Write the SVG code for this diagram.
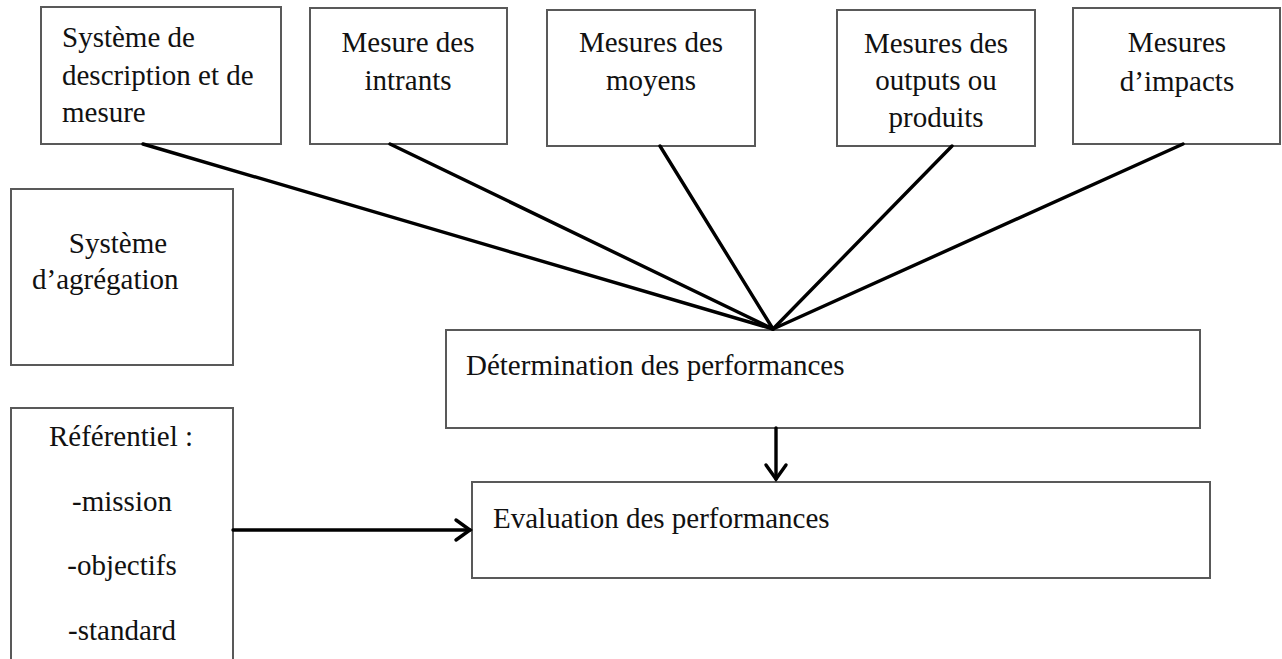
<svg xmlns="http://www.w3.org/2000/svg" width="1282" height="659" viewBox="0 0 1282 659">
  <style>
    .box { fill: #ffffff; stroke: #595959; stroke-width: 2; }
    .t { font-family: "Liberation Serif", "Times New Roman", serif; font-size: 29px; fill: #111111; }
    .c { text-anchor: middle; }
    .link { stroke: #000000; stroke-width: 3.4; fill: none; stroke-linecap: round; }
    .head { stroke: #000000; stroke-width: 3.4; fill: none; stroke-linecap: round; stroke-linejoin: miter; }
  </style>
  <rect width="1282" height="659" fill="#ffffff"/>

  <g id="node-description">
    <rect class="box" x="41" y="7" width="240" height="137"/>
    <text class="t" x="62" y="47">Système de</text>
    <text class="t" x="62" y="85">description et de</text>
    <text class="t" x="62" y="122">mesure</text>
  </g>

  <g id="node-intrants">
    <rect class="box" x="310" y="8" width="197" height="136"/>
    <text class="t c" x="408" y="52">Mesure des</text>
    <text class="t c" x="408" y="90">intrants</text>
  </g>

  <g id="node-moyens">
    <rect class="box" x="547" y="10" width="208" height="136"/>
    <text class="t c" x="651" y="52">Mesures des</text>
    <text class="t c" x="651" y="90">moyens</text>
  </g>

  <g id="node-outputs">
    <rect class="box" x="837" y="10" width="198" height="136"/>
    <text class="t c" x="936" y="53">Mesures des</text>
    <text class="t c" x="936" y="90">outputs ou</text>
    <text class="t c" x="936" y="127">produits</text>
  </g>

  <g id="node-impacts">
    <rect class="box" x="1073" y="8" width="207" height="136"/>
    <text class="t c" x="1177" y="52">Mesures</text>
    <text class="t c" x="1177" y="91">d’impacts</text>
  </g>

  <g id="node-agregation">
    <rect class="box" x="11" y="189" width="222" height="176"/>
    <text class="t c" x="118" y="253">Système</text>
    <text class="t" x="32" y="289">d’agrégation</text>
  </g>

  <g id="node-referentiel">
    <rect class="box" x="11" y="408" width="222" height="260"/>
    <text class="t c" x="121" y="446">Référentiel :</text>
    <text class="t c" x="122" y="511">-mission</text>
    <text class="t c" x="122" y="575">-objectifs</text>
    <text class="t c" x="122" y="640">-standard</text>
  </g>

  <g id="node-determination">
    <rect class="box" x="446" y="330" width="754" height="98"/>
    <text class="t" x="466" y="375">Détermination des performances</text>
  </g>

  <g id="node-evaluation">
    <rect class="box" x="472" y="482" width="738" height="96"/>
    <text class="t" x="493" y="528">Evaluation des performances</text>
  </g>

  <g id="connectors">
    <!-- measures converging on the determination box -->
    <line class="link" x1="143" y1="144" x2="773" y2="329"/>
    <line class="link" x1="390" y1="144" x2="773" y2="329"/>
    <line class="link" x1="660" y1="146" x2="773" y2="329"/>
    <line class="link" x1="952" y1="146" x2="773" y2="329"/>
    <line class="link" x1="1183" y1="144" x2="773" y2="329"/>

    <!-- determination -> evaluation -->
    <line class="link" x1="776" y1="428" x2="776" y2="479"/>
    <polyline class="head" points="766,465 776,479 786,465"/>

    <!-- referentiel -> evaluation -->
    <line class="link" x1="233" y1="530" x2="470" y2="530"/>
    <polyline class="head" points="456,520 470,530 456,540"/>
  </g>
</svg>
